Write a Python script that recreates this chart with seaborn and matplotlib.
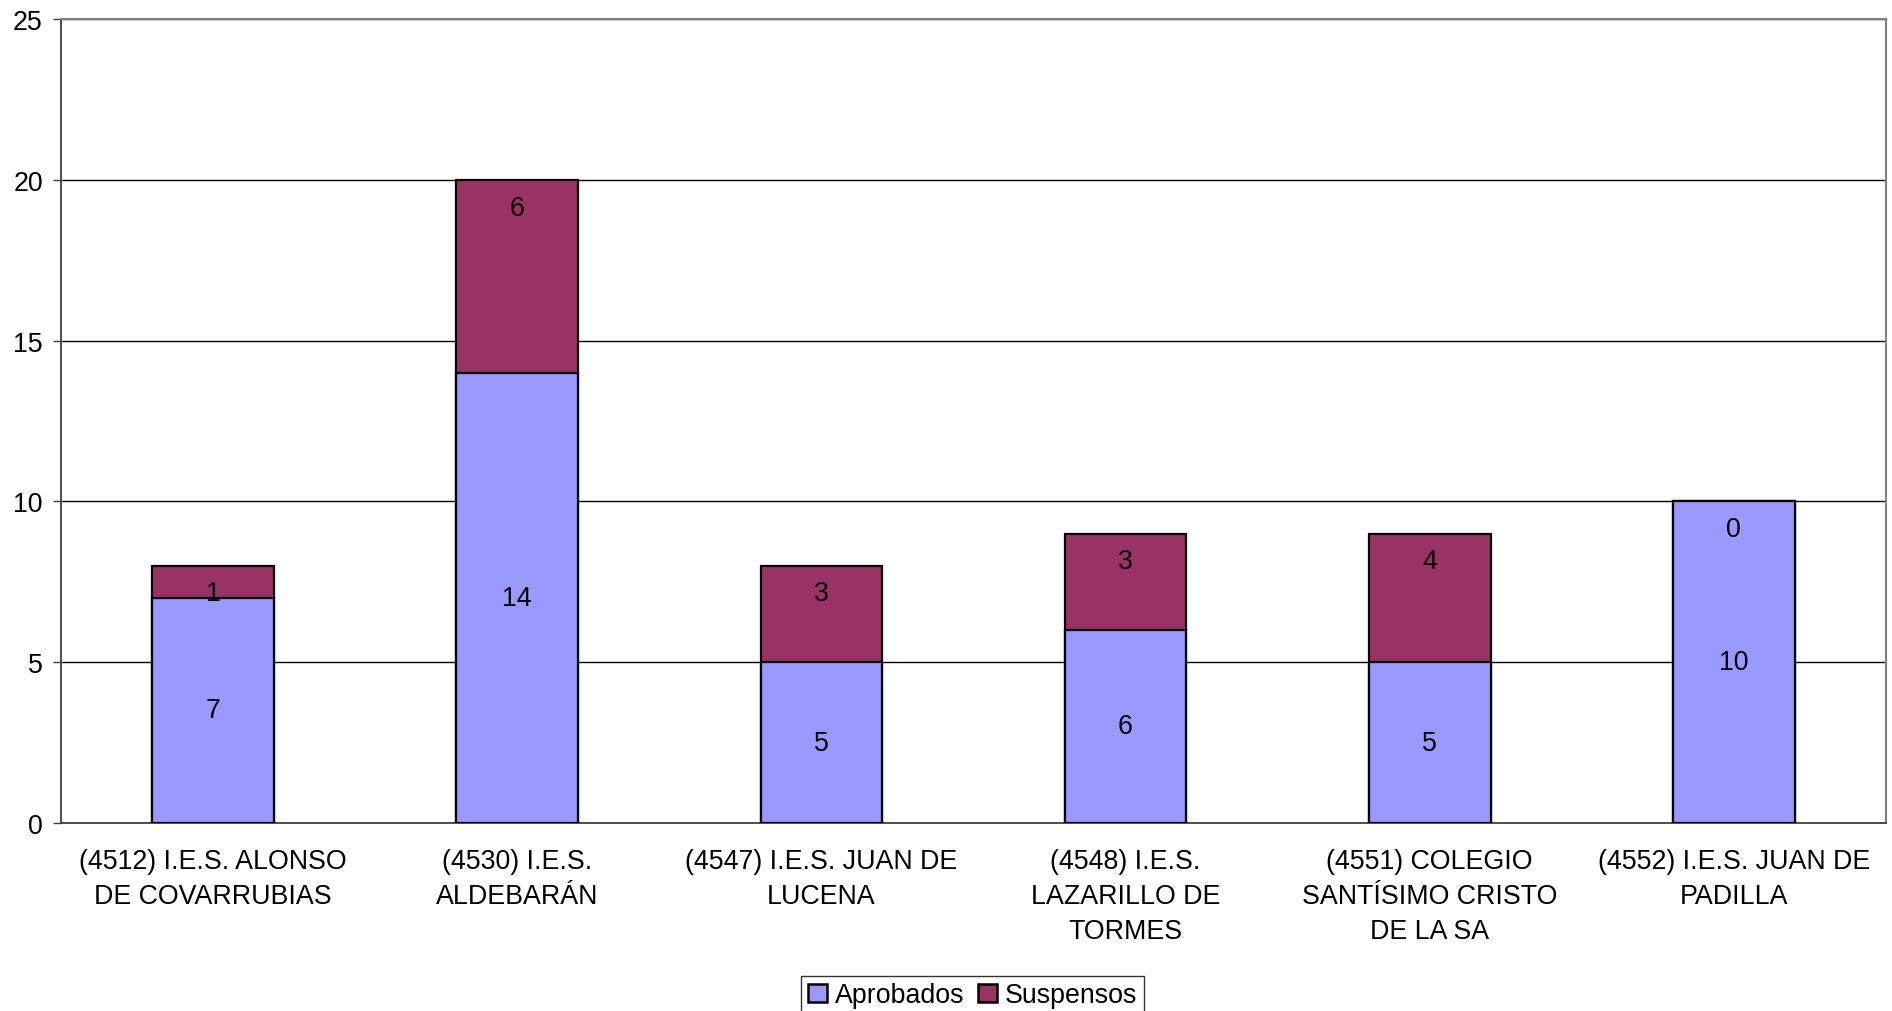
import matplotlib
matplotlib.use("Agg")
import matplotlib.pyplot as plt
import seaborn as sns
import pandas as pd
import numpy as np
from matplotlib.patches import Patch

categories = [
    "(4512) I.E.S. ALONSO\nDE COVARRUBIAS",
    "(4530) I.E.S.\nALDEBARÁN",
    "(4547) I.E.S. JUAN DE\nLUCENA",
    "(4548) I.E.S.\nLAZARILLO DE\nTORMES",
    "(4551) COLEGIO\nSANTÍSIMO CRISTO\nDE LA SA",
    "(4552) I.E.S. JUAN DE\nPADILLA",
]
aprobados = [7, 14, 5, 6, 5, 10]
suspensos = [1, 6, 3, 3, 4, 0]
y_ticks = [0, 5, 10, 15, 20, 25]

BLUE = "#9999FF"
MAROON = "#993366"

sns.set_style("white")
plt.rcParams["font.family"] = ["Liberation Sans", "DejaVu Sans"]
plt.rcParams["text.color"] = "black"
plt.rcParams["xtick.color"] = "black"
plt.rcParams["ytick.color"] = "black"
FS = 19.3

df = pd.DataFrame({"cat": categories, "Aprobados": aprobados, "Suspensos": suspensos})
df["total"] = df["Aprobados"] + df["Suspensos"]

fig = plt.figure(figsize=(18.92, 10.12), dpi=100)
ax = fig.add_axes([0.0322, 0.1858, 0.9646, 0.7944])

sns.barplot(data=df, x="cat", y="total", color=MAROON, width=0.4, ax=ax,
            edgecolor="black", linewidth=1.6, saturation=1, zorder=3)
n_tot = len(ax.patches)
sns.barplot(data=df, x="cat", y="Aprobados", color=BLUE, width=0.4, ax=ax,
            edgecolor="black", linewidth=1.6, saturation=1, zorder=4)
tot_patches = ax.patches[:n_tot]
apr_patches = ax.patches[n_tot:]

for p, v in zip(apr_patches, aprobados):
    ax.annotate(str(v), (p.get_x() + p.get_width() / 2, p.get_height() / 2),
                ha="center", va="center", fontsize=FS, color="black", zorder=6)
for p, v in zip(tot_patches, suspensos):
    ax.annotate(str(v), (p.get_x() + p.get_width() / 2, p.get_height()),
                xytext=(0, -20), textcoords="offset points",
                ha="center", va="center", fontsize=FS, color="black", zorder=6)

ax.set_xlim(-0.5, len(categories) - 0.5)
ax.set_ylim(0, 25)
ax.set_yticks(y_ticks)
ax.set_yticklabels([str(t) for t in y_ticks], fontsize=FS)
ax.yaxis.grid(True, color="black", linewidth=1.0, zorder=0)
ax.set_axisbelow(True)
ax.set_xlabel("")
ax.set_ylabel("")

ax.set_xticks(range(len(categories)))
ax.set_xticklabels(categories, fontsize=FS, linespacing=1.45)
ax.tick_params(axis="x", which="major", length=0, pad=18)
ax.set_xticks(np.arange(-0.5, len(categories) + 0.5, 1), minor=True)
ax.tick_params(axis="x", which="minor", length=6, width=1, color="#808080", direction="out")
ax.tick_params(axis="y", which="major", length=6, width=1, color="#404040", direction="out", pad=7, left=True)

for s in ["top", "right"]:
    ax.spines[s].set_color("#808080")
    ax.spines[s].set_linewidth(1.5)
for s in ["left", "bottom"]:
    ax.spines[s].set_color("#404040")
    ax.spines[s].set_linewidth(1.3)

handles = [Patch(facecolor=BLUE, edgecolor="black", linewidth=1.8, label="Aprobados"),
           Patch(facecolor=MAROON, edgecolor="black", linewidth=1.8, label="Suspensos")]
leg = fig.legend(handles=handles, loc="lower center", bbox_to_anchor=(0.514, -0.004), ncol=2,
                 fontsize=FS, frameon=True, fancybox=False, handlelength=0.7, handleheight=0.7,
                 handletextpad=0.3, columnspacing=0.5, borderpad=0.25, borderaxespad=0.0)
leg.get_frame().set_edgecolor("black")
leg.get_frame().set_linewidth(1.0)

fig.savefig("out.png", dpi=100)
